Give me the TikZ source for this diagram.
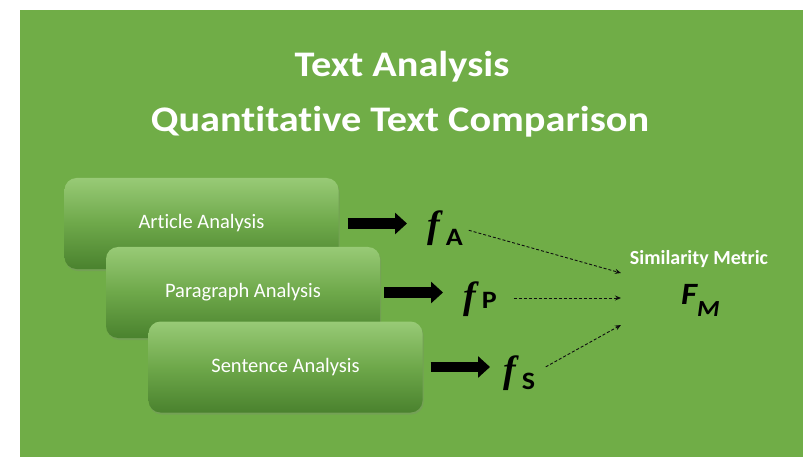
\documentclass[tikz,border=0pt]{standalone}
\usepackage{fontspec}
\setmainfont{Carlito}[Ligatures=NoCommon]
\newfontfamily\titlefont{Carlito}[Ligatures=NoCommon,FakeStretch=1.12]
\newfontfamily\serfont{Liberation Serif}
\usetikzlibrary{arrows.meta,shadows}
\definecolor{bg}{RGB}{112,173,71}
\definecolor{boxtop}{RGB}{152,202,118}
\definecolor{boxmid}{RGB}{110,168,74}
\definecolor{boxbot}{RGB}{74,130,46}
\definecolor{ink}{RGB}{15,15,15}
\newcommand{\subtxt}[2]{\raisebox{#1}{\titlefont\fontsize{25}{27}\selectfont\bfseries\upshape #2}}
\begin{document}
\begin{tikzpicture}[x=1pt,y=-1pt,
  box/.style={rounded corners=12pt, minimum width=274pt, minimum height=91pt,
    top color=boxtop, bottom color=boxbot, middle color=boxmid,
    text=white, font=\fontsize{20.5}{24}\selectfont, inner sep=0pt,
    drop shadow={shadow xshift=1pt, shadow yshift=-2pt, opacity=0.25}},
  title/.style={text=white, font=\titlefont\fontsize{36}{40}\selectfont\bfseries, inner sep=0pt, anchor=base},
  fnode/.style={inner sep=0pt, anchor=base west, text=black},
  bigarrow/.style={draw=black, line width=10.5pt, -{Triangle[length=12pt,width=21pt]}},
  dasharrow/.style={draw=ink, line width=0.9pt, dash pattern=on 3pt off 2pt, -{Stealth[length=6pt,width=5pt]}}]
\useasboundingbox (0,0) rectangle (806,457);
\fill[white] (0,0) rectangle (806,457);
\fill[bg] (20,10) rectangle (803,457);

\node[title] (t1) at (402,77) {Text Analysis};
\node[title] (t2) at (400,132) {Quantitative Text Comparison};

\node[box] (b1) at (201.5,223.5) {Article Analysis};
\node[box] (b2) at (243,292.5) {Paragraph Analysis};
\node[box] (b3) at (285.5,367) {Sentence Analysis};

\node[fnode] (fA) at (427,238) {\fontsize{38}{40}\serfont\bfseries\itshape f\kern6pt\subtxt{-8pt}{A}};
\node[fnode] (fP) at (463,308) {\fontsize{38}{40}\serfont\bfseries\itshape f\kern6pt\subtxt{-1pt}{P}};
\node[fnode] (fS) at (503,382) {\fontsize{38}{40}\serfont\bfseries\itshape f\kern6pt\subtxt{-7pt}{S}};

\draw[bigarrow, shorten <=9pt, shorten >=20pt] (b1.east) -- (b1.east -| fA.west);
\draw[bigarrow, shorten <=4pt, shorten >=20pt] (b2.east) -- (b2.east -| fP.west);
\draw[bigarrow, shorten <=8pt, shorten >=13pt] (b3.east) -- (b3.east -| fS.west);

\node[text=white, font=\fontsize{20}{24}\selectfont\bfseries, inner sep=0pt, anchor=base] (sm) at (699,265) {Similarity Metric};
\node[fnode] (FM) at (681,304) {\titlefont\fontsize{31}{34}\selectfont\bfseries\itshape F\raisebox{-12pt}{\fontsize{23}{26}\selectfont M}};

\coordinate (e1) at (621,273);
\coordinate (e2) at (621,298);
\coordinate (e3) at (621,325);
\draw[dasharrow, shorten <=6pt] (fA.east) -- (e1);
\draw[dasharrow, shorten <=17pt] (fP.east |- e2) -- (e2);
\draw[dasharrow, shorten <=12pt] (fS.east) -- (e3);
\end{tikzpicture}
\end{document}
